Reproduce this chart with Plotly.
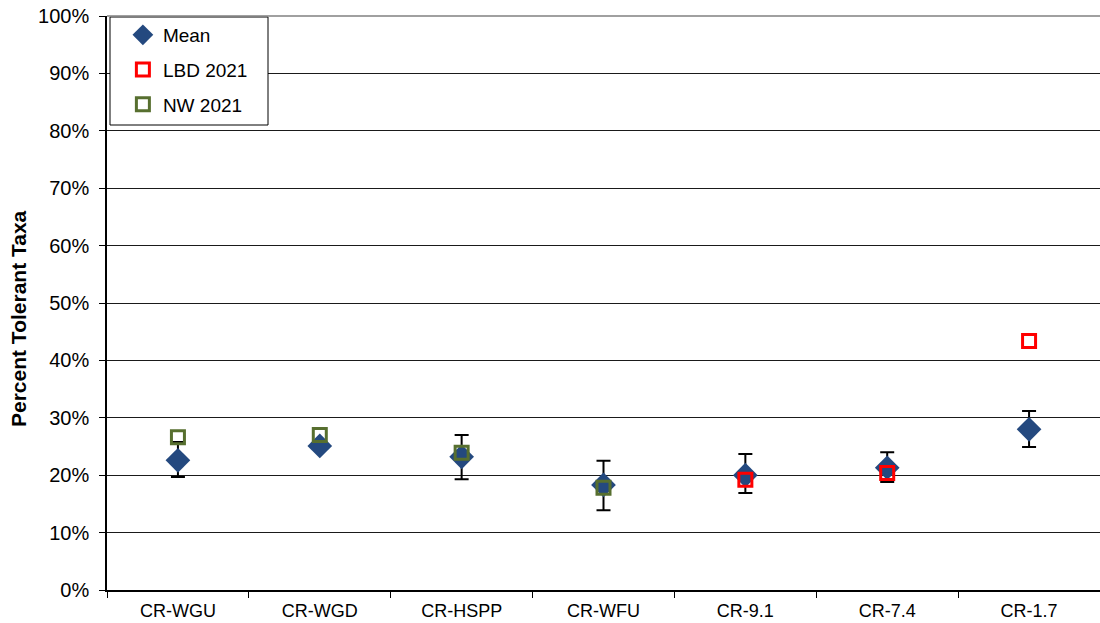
import plotly.graph_objects as go

# Sites along the river
sites = ["CR-WGU", "CR-WGD", "CR-HSPP", "CR-WFU", "CR-9.1", "CR-7.4", "CR-1.7"]

# Long-term mean percent tolerant taxa with error ranges
mean_pct = [22.6, 25.1, 23.2, 18.3, 20.0, 21.3, 28.0]
err_plus = [3.2, 0.5, 3.8, 4.2, 3.7, 2.7, 3.2]
err_minus = [2.9, 0.5, 3.9, 4.4, 3.1, 2.5, 3.1]

# 2021 samples
lbd_sites = ["CR-9.1", "CR-7.4", "CR-1.7"]
lbd_2021 = [19.2, 20.4, 43.4]
nw_sites = ["CR-WGU", "CR-WGD", "CR-HSPP", "CR-WFU"]
nw_2021 = [26.6, 27.0, 23.9, 17.8]

yticks = list(range(0, 101, 10))
ytick_text = [f"{v}%" for v in yticks]

fig = go.Figure()
fig.add_trace(go.Scatter(
    x=sites, y=mean_pct, mode="markers", name="Mean", legendgroup="a",
    marker=dict(symbol="diamond", size=19, color="#24497F"),
    error_y=dict(type="data", symmetric=False, array=err_plus, arrayminus=err_minus,
                 color="black", thickness=2, width=7),
))
fig.add_trace(go.Scatter(
    x=lbd_sites, y=lbd_2021, mode="markers", name="LBD 2021", legendgroup="b",
    marker=dict(symbol="square-open", size=13, color="#FF0000", line=dict(width=3)),
))
fig.add_trace(go.Scatter(
    x=nw_sites, y=nw_2021, mode="markers", name="NW 2021", legendgroup="c",
    marker=dict(symbol="square-open", size=13, color="#576F2F", line=dict(width=3)),
))

fig.update_layout(
    width=1100, height=623,
    margin=dict(l=107, r=0, t=16, b=33),
    plot_bgcolor="white", paper_bgcolor="white",
    font=dict(family="Liberation Sans, Arial, sans-serif", size=19, color="black"),
    showlegend=True,
    legend=dict(x=0.016, y=1.0, xanchor="left", yanchor="top",
                bgcolor="rgba(0,0,0,0)", borderwidth=0,
                traceorder="grouped", tracegroupgap=7,
                font=dict(size=19), itemwidth=30),
    shapes=[dict(type="rect", xref="paper", yref="paper",
                 x0=3 / 993, x1=161 / 993, y0=1 - 109 / 574, y1=1 - 1 / 574,
                 line=dict(color="black", width=1), fillcolor="white", layer="above")],
    xaxis=dict(type="category", categoryorder="array", categoryarray=sites,
               range=[-0.5, 6.5], showgrid=False, showline=True, linecolor="black",
               linewidth=1.5, ticks="outside", tickson="boundaries", ticklen=6,
               tickcolor="black", tickfont=dict(size=18), ticklabelstandoff=4),
    yaxis=dict(range=[0, 100], tickvals=yticks, ticktext=ytick_text,
               showgrid=True, gridcolor="#1a1a1a", gridwidth=1,
               showline=True, linecolor="black", linewidth=1.5,
               ticks="outside", ticklen=6, tickcolor="black",
               tickfont=dict(size=20), zeroline=False, ticklabelstandoff=6),
    annotations=[dict(text="<b>Percent Tolerant Taxa</b>", xref="paper", yref="paper",
                      x=-89 / 993, y=(590 - 319) / 574, xanchor="center", yanchor="middle",
                      textangle=-90, showarrow=False, font=dict(size=21))],
)
# Top border of the plot area
fig.add_shape(type="line", xref="paper", yref="paper", x0=0, x1=1, y0=1, y1=1,
              line=dict(color="#808080", width=1.5))

fig.write_html("out.html")
